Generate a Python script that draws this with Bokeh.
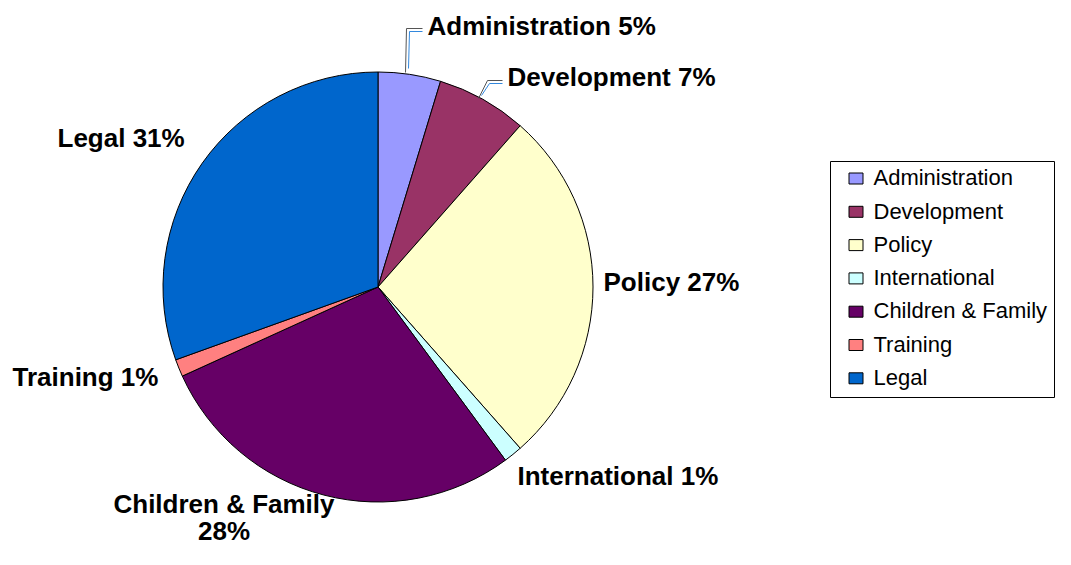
import numpy as np
from bokeh.plotting import figure
from bokeh.models import Range1d, ColumnDataSource
from bokeh.core.properties import value
from bokeh.embed import file_html
from bokeh.resources import INLINE

# ---- data ----
categories = ["Administration", "Development", "Policy", "International",
              "Children & Family", "Training", "Legal"]
shares = [4.7, 6.8, 27.0, 1.4, 28.3, 1.3, 30.5]
pct_labels = ["5%", "7%", "27%", "1%", "28%", "1%", "31%"]
colors = ["#9999FF", "#993366", "#FFFFCC", "#CCFFFF", "#660066", "#FF8080", "#0066CC"]

# ---- layout (picture pixel coords, origin top-left) ----
W, H = 1055, 549
def px(x): return x
def py(y): return H - y

LBL_SIZE, LEG_SIZE = 26, 22
# the svg text sits ~0.4em lower than the requested baseline; compensate
def base(y, size): return py(y - 0.4 * size)

center_img = (377.5, 286.5)
radius = 215
# label anchors: (x, baseline y, align, baseline of wrapped percent line)
label_layout = [(427, 36, "left", None), (507, 87, "left", None), (603, 292, "left", None),
                (517, 486, "left", None), (223.5, 514, "center", 541), (12, 387, "left", None),
                (57, 148, "left", None)]

p = figure(width=W, height=H, x_range=Range1d(0, W), y_range=Range1d(0, H),
           output_backend="svg", toolbar_location=None, min_border=0,
           x_axis_location=None, y_axis_location=None,
           outline_line_color=None, background_fill_color="white",
           border_fill_color="white")
p.grid.visible = False

frac = np.array(shares) / np.sum(shares)
cum = np.cumsum(frac)
start = cum - frac
src = ColumnDataSource(dict(
    cat=categories,
    start=np.pi / 2 - 2 * np.pi * start,
    end=np.pi / 2 - 2 * np.pi * cum,
    color=colors,
))
p.wedge(x=px(center_img[0]), y=py(center_img[1]), radius=radius,
        start_angle="start", end_angle="end", direction="clock",
        fill_color="color", line_color="black", line_width=1, source=src)

# leader lines for the two small top slices
p.line([px(408), px(409), px(422)], [py(68), py(31), py(31)], line_color="#3388DD", line_width=1)
p.line([px(405), px(406), px(422)], [py(72), py(28), py(28)], line_color="#555555", line_width=1)
p.line([px(481), px(489), px(502)], [py(95), py(83), py(83)], line_color="#3388DD", line_width=1)
p.line([px(478), px(487), px(502)], [py(98), py(80), py(80)], line_color="#555555", line_width=1)

# slice labels
lx, ly, lt, la = [], [], [], []
for c, pc, (x, y, al, y2) in zip(categories, pct_labels, label_layout):
    if y2 is None:
        lx.append(px(x)); ly.append(base(y, LBL_SIZE)); lt.append(f"{c} {pc}"); la.append(al)
    else:
        lx += [px(x), px(x)]; ly += [base(y, LBL_SIZE), base(y2, LBL_SIZE)]
        lt += [c, pc]; la += [al, al]
lsrc = ColumnDataSource(dict(x=lx, y=ly, text=lt, align=la))
p.text(x="x", y="y", text="text", text_align="align", text_baseline="alphabetic",
       text_font=value("Liberation Sans"), text_font_style="bold",
       text_font_size=f"{LBL_SIZE}px", text_color="black", source=lsrc)

# legend box (drawn to match the Excel key layout)
box_l, box_r, box_t, box_b = 830, 1054, 161, 397
p.quad(left=px(box_l), right=px(box_r), top=py(box_t), bottom=py(box_b),
       fill_color="white", line_color="black", line_width=1)
row_step = 33.3
leg_src = ColumnDataSource(dict(
    sx=[px(855.5)] * len(categories),
    sy=[py(178 + i * row_step) for i in range(len(categories))],
    tx=[px(873)] * len(categories),
    ty=[base(186 + i * row_step, LEG_SIZE) for i in range(len(categories))],
    text=categories,
    color=colors,
))
p.rect(x="sx", y="sy", width=14, height=11, width_units="screen", height_units="screen",
       fill_color="color", line_color="black", line_width=1, source=leg_src)
p.text(x="tx", y="ty", text="text", text_align="left", text_baseline="alphabetic",
       text_font=value("Liberation Sans"), text_font_size=f"{LEG_SIZE}px", text_color="black",
       source=leg_src)

open("out.html", "w").write(file_html(p, INLINE))
